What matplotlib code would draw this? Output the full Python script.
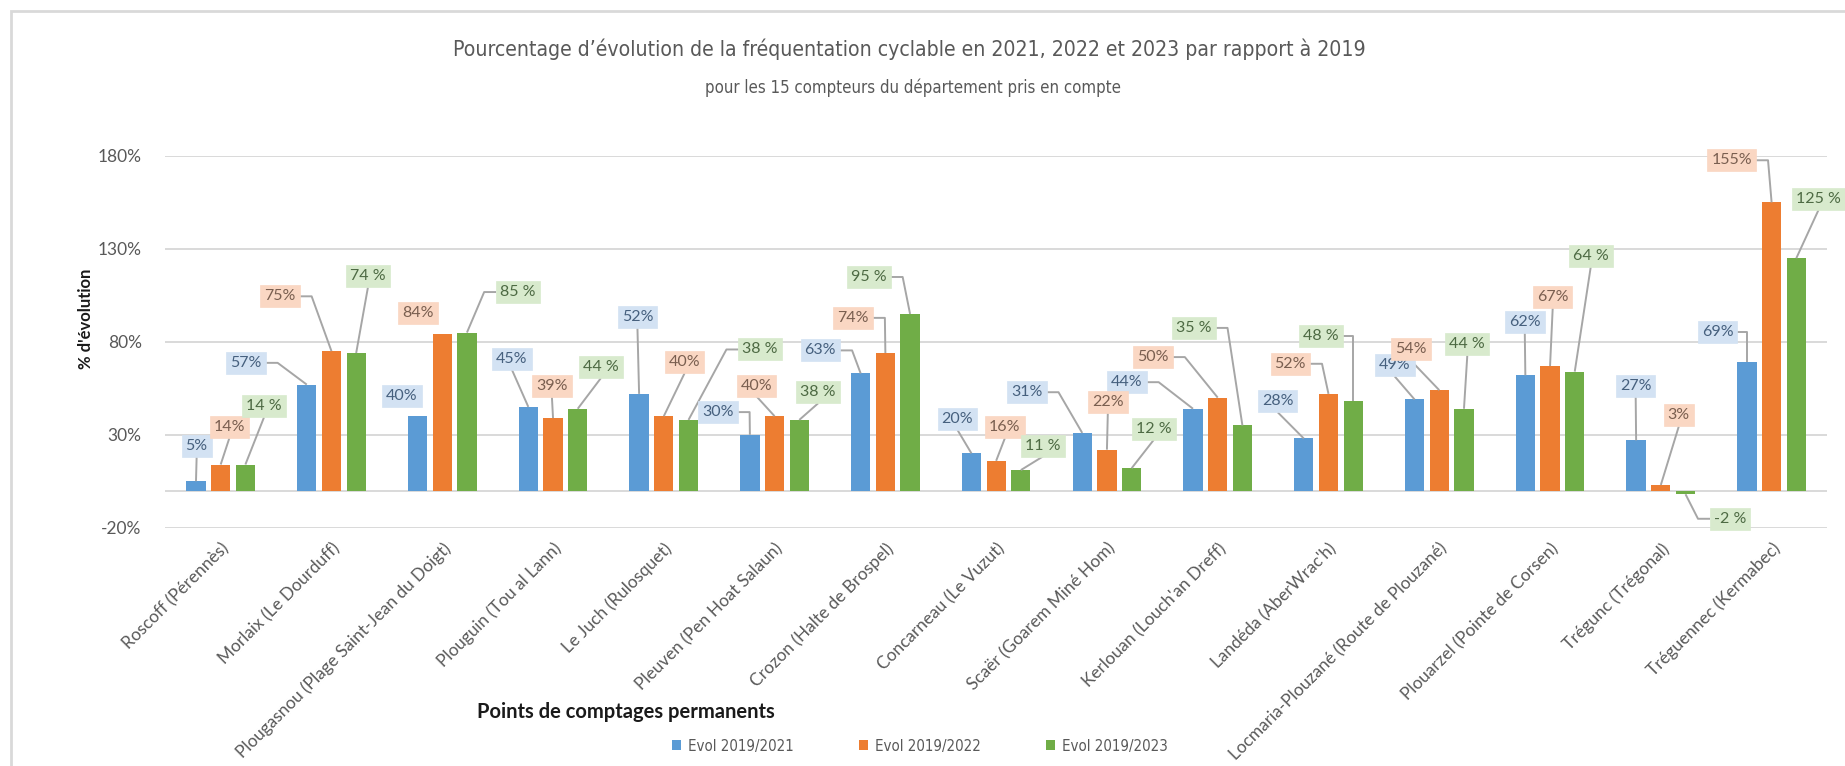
import matplotlib
matplotlib.use("Agg")
import matplotlib.pyplot as plt
from matplotlib.patches import Rectangle
from matplotlib.lines import Line2D
from matplotlib import font_manager as fm
import numpy as np

# ---------------- data ----------------
categories = [
    "Roscoff (Pérennès)",
    "Morlaix (Le Dourduff)",
    "Plougasnou (Plage Saint-Jean du Doigt)",
    "Plouguin (Tou al Lann)",
    "Le Juch (Rulosquet)",
    "Pleuven (Pen Hoat Salaun)",
    "Crozon (Halte de Brospel)",
    "Concarneau (Le Vuzut)",
    "Scaër (Goarem Miné Hom)",
    "Kerlouan (Louch'an Dreff)",
    "Landéda (AberWrac'h)",
    "Locmaria-Plouzané (Route de Plouzané)",
    "Plouarzel (Pointe de Corsen)",
    "Trégunc (Trégonal)",
    "Tréguennec (Kermabec)",
]
evol_2021 = [5, 57, 40, 45, 52, 30, 63, 20, 31, 44, 28, 49, 62, 27, 69]
evol_2022 = [14, 75, 84, 39, 40, 40, 74, 16, 22, 50, 52, 54, 67, 3, 155]
evol_2023 = [14, 74, 85, 44, 38, 38, 95, 11, 12, 35, 48, 44, 64, -2, 125]
series_names = ["Evol 2019/2021", "Evol 2019/2022", "Evol 2019/2023"]
y_ticks = [-20, 30, 80, 130, 180]

# ---------------- label layout (offset from group centre, height in %) ----------------
lab_dx_2021 = [-0.217, -0.772, -0.366, -0.371, -0.238, -0.512, -0.587, -0.350,
               -0.723, -0.820, -0.458, -0.402, -0.228, -0.227, -0.489]
lab_y_2021 = [24.2, 68.7, 50.6, 70.9, 93.3, 42.2, 75.4, 38.6, 52.9, 58.3, 48.0,
              67.3, 90.6, 56.5, 85.2]
lab_dx_2022 = [0.078, -0.465, -0.219, -0.010, 0.188, -0.162, -0.291, 0.079,
               0.008, -0.583, -0.345, -0.257, 0.024, 0.162, -0.360]
lab_y_2022 = [34.1, 104.5, 95.6, 56.1, 69.1, 56.5, 92.9, 34.1, 47.5, 71.8, 68.2,
              75.9, 104.1, 40.4, 177.7]
lab_dx_2023 = [0.391, 0.329, 0.683, 0.432, 0.870, 0.394, -0.149, 0.421, 0.423,
               -0.216, -0.069, 0.253, 0.367, 0.626, 0.425]
lab_y_2023 = [45.3, 115.2, 106.8, 66.4, 75.9, 52.9, 114.9, 24.2, 33.2, 87.5, 83.0,
              78.6, 126.1, -15.2, 157.1]

# ---------------- style ----------------
plt.rcParams["font.family"] = ["Lato", "DejaVu Sans"]
bar_colors = ["#5b9bd5", "#ed7d31", "#70ad47"]
box_colors = ["#d3e2f3", "#fad7c3", "#d8eacd"]
txt_colors = ["#46607e", "#7a5f50", "#4d6a43"]
grid_col = "#d9d9d9"
lead_col = "#a6a6a6"


def find_narrow_font():
    """Look for an installed condensed / narrow sans font (regular weight)."""
    best = None
    best_rank = 99
    for f in fm.fontManager.ttflist:
        nm = f.name.lower()
        fn = f.fname.lower()
        if f.style != "normal":
            continue
        try:
            w = int(f.weight)
        except (TypeError, ValueError):
            w = 400 if str(f.weight).lower() in ("normal", "regular", "book") else 700
        if w < 300 or w > 500:
            continue
        if "mono" in nm or "mono" in fn or ("serif" in nm and "sans" not in nm) \
                or "serif" in fn.replace("sans", ""):
            continue
        narrow = ("narrow" in nm or "condensed" in nm or "narrow" in fn
                  or "condensed" in fn
                  or str(f.stretch) in ("condensed", "semi-condensed",
                                        "extra-condensed"))
        if not narrow:
            continue
        if "liberation" in nm:
            rank = 0
        elif "dejavu" in nm:
            rank = 1
        elif "roboto" in nm:
            rank = 2
        else:
            rank = 3
        if rank < best_rank:
            best, best_rank = f.fname, rank
    return best


narrow_path = find_narrow_font()


def narrow_props(size):
    if narrow_path:
        return fm.FontProperties(fname=narrow_path, size=size)
    return fm.FontProperties(family=["Lato", "DejaVu Sans"], size=size)


W, H = 1845, 766
fig = plt.figure(figsize=(W / 100, H / 100), dpi=100)
fig.patch.set_facecolor("white")
renderer = fig.canvas.get_renderer()


def text_width(text, props):
    t = fig.text(0, 0, text, fontproperties=props)
    w = t.get_window_extent(renderer).width
    t.remove()
    return w


def fit_size(text, target_px, base=10.0):
    return base * target_px / text_width(text, narrow_props(base))


ax = fig.add_axes([165.3 / W, (H - 527.7) / H, (1827 - 165.3) / W, (527.7 - 156) / H])

x = np.arange(len(categories))
bw = 0.174
pitch = 0.223
all_series = [evol_2021, evol_2022, evol_2023]
containers = []
for k, vals in enumerate(all_series):
    c = ax.bar(x + (k - 1) * pitch, vals, width=bw, color=bar_colors[k],
               linewidth=0, zorder=3, label=series_names[k])
    containers.append(c)

ax.set_xlim(-0.5, len(categories) - 0.5)
ax.set_ylim(-20, 180)
ax.set_yticks(y_ticks)
ax.set_yticklabels([f"{t}%" for t in y_ticks])
ax.yaxis.grid(True, color=grid_col, linewidth=1.4, zorder=0)
ax.axhline(0, color=grid_col, linewidth=1.4, zorder=1)
for s in ax.spines.values():
    s.set_visible(False)
ax.tick_params(axis="y", length=0, pad=17, labelsize=12.5, labelcolor="#595959")
ax.tick_params(axis="x", length=0, pad=9, labelsize=12.4, labelcolor="#595959")
ax.set_xticks(x)
ax.set_xticklabels(categories, rotation=45, ha="right", va="top",
                   rotation_mode="anchor")

# ---------------- data labels ----------------
lab_dx = [lab_dx_2021, lab_dx_2022, lab_dx_2023]
lab_y = [lab_y_2021, lab_y_2022, lab_y_2023]
fmt = ["{}%", "{}%", "{} %"]
labels = []
for k, vals in enumerate(all_series):
    for i, v in enumerate(vals):
        t = ax.text(x[i] + lab_dx[k][i], lab_y[k][i], fmt[k].format(v),
                    ha="center", va="center", fontsize=11.5, color=txt_colors[k],
                    zorder=10 + k,
                    bbox=dict(boxstyle="square,pad=0.25", fc=box_colors[k],
                              ec=box_colors[k], lw=0.5))
        labels.append((t, x[i] + (k - 1) * pitch, v))

# ---------------- titles ----------------
title = "Pourcentage d’évolution de la fréquentation cyclable en 2021, 2022 et 2023 par rapport à 2019"
subtitle = "pour les 15 compteurs du département pris en compte"
fig.text(0.4927, 1 - 49.4 / H, title, ha="center", va="center", color="#595959",
         fontproperties=narrow_props(min(fit_size(title, 917), 22)))
fig.text(0.4946, 1 - 88 / H, subtitle, ha="center", va="center", color="#595959",
         fontproperties=narrow_props(min(fit_size(subtitle, 417), 16)))
fig.text(86 / W, 1 - 319 / H, "% d'évolution", rotation=90, ha="center",
         va="center", fontsize=12, fontweight="bold", color="#1a1a1a")
fig.text(477 / W, 1 - 712 / H, "Points de comptages permanents", ha="left",
         va="center", fontsize=14.5, fontweight="bold", color="#1a1a1a")

# ---------------- legend ----------------
leg_size = 10.8
leg_props = narrow_props(leg_size)
em = leg_size * 100 / 72
tw = text_width(series_names[0], leg_props)
h_len, t_pad = 0.6, 0.45
col_sp = (187 - (h_len + t_pad) * em - tw) / em
first_marker_x = 676.6
leg = fig.legend(handles=containers, labels=series_names, loc="center left",
                 bbox_to_anchor=((first_marker_x - h_len * em / 2) / W, 1 - 746 / H),
                 ncol=3, frameon=False, borderpad=0, borderaxespad=0,
                 handlelength=h_len, handleheight=h_len, handletextpad=t_pad,
                 columnspacing=col_sp, prop=leg_props)
for t in leg.get_texts():
    t.set_color("#595959")

# chart border
fig.add_artist(Rectangle((11 / W, -0.1), 1.2, (H - 11) / H + 0.1,
                         transform=fig.transFigure, fill=False,
                         ec="#d9d9d9", lw=2))

# ---------------- leader lines ----------------
fig.canvas.draw()
renderer = fig.canvas.get_renderer()
inv = ax.transData.inverted()
for t, bxd, v in labels:
    bb = t.get_bbox_patch().get_window_extent(renderer)
    bx, by = ax.transData.transform((bxd, v))
    lx = (bb.x0 + bb.x1) / 2
    half = bb.width / 2
    if abs(bx - lx) <= half + 9:
        if by < bb.y0:
            start = (lx, bb.y0)
            gap = bb.y0 - by
        else:
            start = (lx, bb.y1)
            gap = by - bb.y1
        if gap < 11:
            continue
        pts = [start, (bx, by)]
    else:
        sgn = 1 if bx > lx else -1
        side = bb.x1 if sgn > 0 else bb.x0
        ly = (bb.y0 + bb.y1) / 2
        stub = min(12, abs(bx - side))
        pts = [(side, ly), (side + sgn * stub, ly), (bx, by)]
    dp = inv.transform(np.array(pts))
    ax.add_line(Line2D(dp[:, 0], dp[:, 1], color=lead_col, lw=1.4,
                       zorder=5, clip_on=False, solid_capstyle="butt"))

fig.savefig("out.png", dpi=100, facecolor="white")
